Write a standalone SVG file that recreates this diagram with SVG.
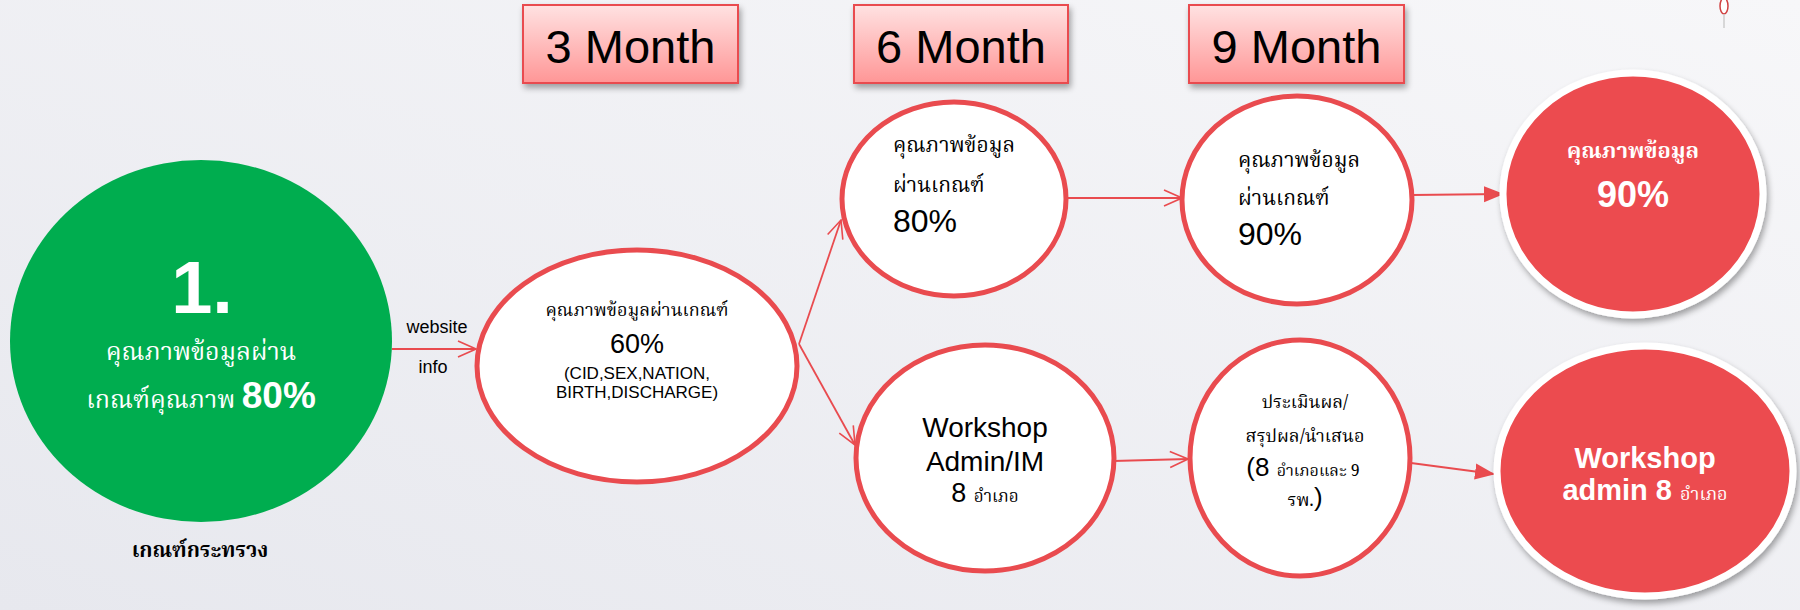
<svg xmlns="http://www.w3.org/2000/svg" width="1800" height="610" viewBox="0 0 1800 610">
<defs>
<linearGradient id="bg" x1="0" y1="1" x2="1" y2="0">
<stop offset="0" stop-color="#e7e8ee"/>
<stop offset="1" stop-color="#f7f7f9"/>
</linearGradient>
<linearGradient id="boxg" x1="0" y1="0" x2="0" y2="1">
<stop offset="0" stop-color="#ffe2e2"/>
<stop offset="1" stop-color="#ff9696"/>
</linearGradient>
<filter id="sh" x="-20%" y="-20%" width="140%" height="150%">
<feGaussianBlur in="SourceAlpha" stdDeviation="3"/>
<feOffset dx="2" dy="4"/>
<feComponentTransfer><feFuncA type="linear" slope="0.35"/></feComponentTransfer>
<feMerge><feMergeNode/><feMergeNode in="SourceGraphic"/></feMerge>
</filter>
<marker id="open" viewBox="0 0 20 20" refX="19" refY="10" markerWidth="20" markerHeight="20" markerUnits="userSpaceOnUse" orient="auto">
<path d="M1,2 L19,10 L1,18" fill="none" stroke="#e94b4f" stroke-width="1.6"/>
</marker>
<marker id="solid" viewBox="0 0 20 20" refX="19" refY="10" markerWidth="20" markerHeight="20" markerUnits="userSpaceOnUse" orient="auto">
<path d="M0,2 L20,10 L0,18 Z" fill="#e94b4f"/>
</marker>
</defs>
<style>
.ring{fill:#ffffff;stroke:#e94b4f;stroke-width:5}
.redc{fill:#ec4b4f;stroke:#ffffff;stroke-width:7}
.box{fill:url(#boxg);stroke:#e94b4f;stroke-width:2}
.lab{font-family:"Liberation Sans",Arial,sans-serif;fill:#000}
.th{font-family:"Noto Serif Thai","Noto Sans Thai","Liberation Serif","Noto Sans",serif}
.wt{fill:#ffffff}
.conn{stroke:#e94b4f;stroke-width:1.8;fill:none}
</style>
<rect x="0" y="0" width="1800" height="610" fill="url(#bg)"/>

<g id="decor">
<ellipse cx="1724" cy="6" rx="4" ry="8" fill="#ffffff" stroke="#d04040" stroke-width="1.5"/>
<line x1="1724" y1="14" x2="1724" y2="28" stroke="#cccccc" stroke-width="1.5"/>
</g>

<g id="month3">
<rect class="box" x="523" y="5" width="215" height="78" filter="url(#sh)"/>
<text class="lab" x="630.5" y="63" font-size="47" text-anchor="middle">3 Month</text>
</g>
<g id="month6">
<rect class="box" x="854" y="5" width="214" height="78" filter="url(#sh)"/>
<text class="lab" x="961" y="63" font-size="47" text-anchor="middle">6 Month</text>
</g>
<g id="month9">
<rect class="box" x="1189" y="5" width="215" height="78" filter="url(#sh)"/>
<text class="lab" x="1296.5" y="63" font-size="47" text-anchor="middle">9 Month</text>
</g>

<g id="connectors">
<line class="conn" x1="392" y1="349" x2="476" y2="349" marker-end="url(#open)"/>
<line class="conn" x1="799" y1="344" x2="841" y2="220" marker-end="url(#open)"/>
<line class="conn" x1="799" y1="344" x2="855" y2="445" marker-end="url(#open)"/>
<line class="conn" x1="1064" y1="198" x2="1182" y2="198" marker-end="url(#open)"/>
<line class="conn" x1="1113" y1="461" x2="1188" y2="459" marker-end="url(#open)"/>
<line class="conn" x1="1412" y1="195" x2="1503" y2="194" marker-end="url(#solid)"/>
<line class="conn" x1="1411" y1="463" x2="1494" y2="474" marker-end="url(#solid)"/>
<text class="lab" x="437" y="333" font-size="18" text-anchor="middle">website</text>
<text class="lab" x="433" y="373" font-size="18" text-anchor="middle">info</text>
</g>

<g id="start">
<ellipse cx="201" cy="341" rx="191" ry="181" fill="#00ad4f"/>
<text class="lab wt" x="202" y="313" font-size="74" font-weight="bold" text-anchor="middle">1.</text>
<text class="th wt" x="201" y="360" font-size="25" text-anchor="middle">คุณภาพข้อมูลผ่าน</text>
<text class="th wt" x="201" y="408" font-size="25" text-anchor="middle">เกณฑ์คุณภาพ <tspan class="lab wt" font-size="37" font-weight="bold">80%</tspan></text>
<text class="th" x="200" y="557" font-size="21" font-weight="bold" text-anchor="middle" fill="#000">เกณฑ์กระทรวง</text>
</g>

<g id="q60">
<ellipse class="ring" cx="637" cy="366" rx="160" ry="116"/>
<text class="th" x="637" y="316" font-size="18" text-anchor="middle">คุณภาพข้อมูลผ่านเกณฑ์</text>
<text class="lab" x="637" y="353" font-size="27" text-anchor="middle">60%</text>
<text class="lab" x="637" y="379" font-size="17" text-anchor="middle">(CID,SEX,NATION,</text>
<text class="lab" x="637" y="398" font-size="17" text-anchor="middle">BIRTH,DISCHARGE)</text>
</g>

<g id="q80">
<ellipse class="ring" cx="954" cy="199" rx="112" ry="97"/>
<text class="th" x="893" y="152" font-size="21">คุณภาพข้อมูล</text>
<text class="th" x="893" y="192" font-size="21">ผ่านเกณฑ์</text>
<text class="lab" x="893" y="232" font-size="32">80%</text>
</g>

<g id="q90">
<ellipse class="ring" cx="1297" cy="200" rx="115" ry="104"/>
<text class="th" x="1238" y="167" font-size="21">คุณภาพข้อมูล</text>
<text class="th" x="1238" y="205" font-size="21">ผ่านเกณฑ์</text>
<text class="lab" x="1238" y="245" font-size="32">90%</text>
</g>

<g id="workshop">
<ellipse class="ring" cx="985" cy="458" rx="129" ry="113"/>
<text class="lab" x="985" y="437" font-size="28" text-anchor="middle">Workshop</text>
<text class="lab" x="985" y="471" font-size="28" text-anchor="middle">Admin/IM</text>
<text class="lab" x="985" y="502" font-size="27" text-anchor="middle">8 <tspan class="th" font-size="17">อำเภอ</tspan></text>
</g>

<g id="evaluate">
<ellipse class="ring" cx="1300" cy="458" rx="110" ry="118"/>
<text class="th" x="1305" y="408" font-size="18" text-anchor="middle">ประเมินผล/</text>
<text class="th" x="1305" y="442" font-size="18" text-anchor="middle">สรุปผล/นำเสนอ</text>
<text class="lab" x="1303" y="476" font-size="26" text-anchor="middle">(8 <tspan class="th" font-size="16">อำเภอและ 9</tspan></text>
<text class="th" x="1305" y="506" font-size="18" text-anchor="middle">รพ.<tspan class="lab" font-size="26">)</tspan></text>
</g>

<g id="goal90">
<ellipse class="redc" cx="1633" cy="194" rx="130" ry="121" filter="url(#sh)"/>
<text class="th wt" x="1633" y="158" font-size="22" font-weight="bold" text-anchor="middle">คุณภาพข้อมูล</text>
<text class="lab wt" x="1633" y="207" font-size="36" font-weight="bold" text-anchor="middle">90%</text>
</g>

<g id="goalWorkshop">
<ellipse class="redc" cx="1645" cy="471" rx="148" ry="125" filter="url(#sh)"/>
<text class="lab wt" x="1645" y="468" font-size="29" font-weight="bold" text-anchor="middle">Workshop</text>
<text class="lab wt" x="1645" y="500" font-size="29" font-weight="bold" text-anchor="middle">admin 8 <tspan class="th" font-size="18" font-weight="normal">อำเภอ</tspan></text>
</g>
</svg>
